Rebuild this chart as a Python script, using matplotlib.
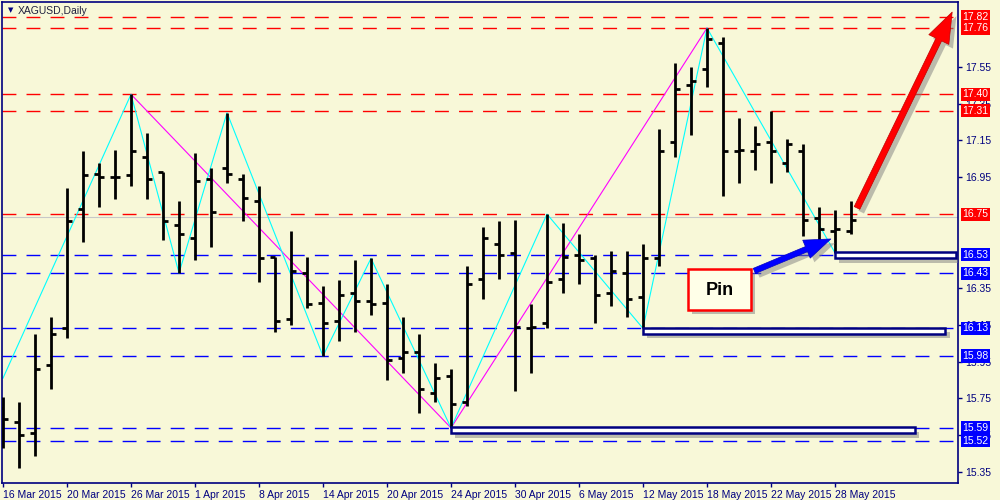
import matplotlib
matplotlib.use('Agg')
import matplotlib.pyplot as plt
import matplotlib.patheffects as pe
from matplotlib.patches import Rectangle, FancyArrowPatch
from matplotlib.transforms import blended_transform_factory

# ─── DATA ─────────────────────────────────────────────────────────────────────
opens = [15.70, 15.62, 15.56, 15.93, 16.13, 16.78, 16.97, 16.95, 16.96, 17.06,
         16.98, 16.69, 16.62, 16.94, 17.00, 16.94, 16.82, 16.52, 16.18, 16.43,
         16.27, 16.17, 16.32, 16.28, 16.27, 15.97, 16.00, 15.78, 15.87, 15.73,
         16.40, 16.59, 16.54, 16.13, 16.16, 16.40, 16.53, 16.51, 16.32, 16.43,
         16.30, 16.51, 17.14, 17.45, 17.54, 17.68, 17.09, 17.09, 17.14, 17.03,
         17.09, 16.73, 16.66, 16.66]
highs = [15.76, 15.73, 16.10, 16.19, 16.89, 17.09, 17.03, 17.10, 17.40, 17.19,
         16.98, 16.82, 17.08, 17.00, 17.30, 16.97, 16.90, 16.52, 16.66, 16.52,
         16.36, 16.39, 16.50, 16.51, 16.37, 16.19, 16.10, 15.94, 15.91, 16.47,
         16.68, 16.71, 16.72, 16.26, 16.75, 16.70, 16.64, 16.53, 16.55, 16.55,
         16.59, 17.21, 17.57, 17.55, 17.76, 17.71, 17.27, 17.23, 17.31, 17.16,
         17.13, 16.79, 16.77, 16.82]
lows = [15.48, 15.37, 15.44, 15.80, 16.08, 16.60, 16.79, 16.83, 16.90, 16.83,
        16.61, 16.43, 16.50, 16.57, 16.92, 16.71, 16.38, 16.11, 16.15, 16.24,
        15.98, 16.06, 16.11, 16.20, 15.85, 15.89, 15.67, 15.73, 15.59, 15.71,
        16.29, 16.40, 15.79, 15.89, 16.13, 16.32, 16.37, 16.16, 16.25, 16.19,
        16.13, 16.47, 17.06, 17.18, 17.44, 16.85, 16.92, 16.99, 16.92, 16.98,
        16.63, 16.61, 16.54, 16.64]
closes = [15.64, 15.55, 15.91, 16.10, 16.71, 16.96, 16.95, 16.95, 17.09, 16.94,
          16.71, 16.64, 16.93, 16.76, 16.97, 16.84, 16.51, 16.17, 16.44, 16.26,
          16.16, 16.31, 16.28, 16.26, 15.96, 16.00, 15.80, 15.86, 15.72, 16.37,
          16.62, 16.53, 16.14, 16.14, 16.38, 16.52, 16.50, 16.31, 16.44, 16.29,
          16.51, 17.09, 17.43, 17.47, 17.70, 17.09, 17.10, 17.13, 17.09, 17.13,
          16.72, 16.67, 16.67, 16.72]

date_ticks = [0, 4, 8, 12, 16, 20, 24, 28, 32, 36, 40, 44, 48, 52]
date_labels = ['16 Mar 2015', '20 Mar 2015', '26 Mar 2015', '1 Apr 2015',
               '8 Apr 2015', '14 Apr 2015', '20 Apr 2015', '24 Apr 2015',
               '30 Apr 2015', '6 May 2015', '12 May 2015', '18 May 2015',
               '22 May 2015', '28 May 2015']

# price scale labels that stay visible next to the level tags
price_ticks = [15.35, 15.55, 15.75, 15.95, 16.15, 16.35,
               16.95, 17.15, 17.35, 17.55]

red_levels = [17.82, 17.76, 17.40, 17.31, 16.75]
blue_levels = [16.53, 16.43, 16.13, 15.98, 15.59, 15.52]

# zigzag swing points (bar index, price)
zz_small_idx = [0, 8, 11, 14, 20, 23, 28, 34, 40, 44, 52]
zz_small_px = [15.86, 17.40, 16.43, 17.30, 15.98, 16.51, 15.59, 16.75, 16.13, 17.76, 16.54]
zz_big_idx = [8, 28, 44]
zz_big_px = [17.40, 15.59, 17.76]

# support boxes: start bar, end position
box_start = [28, 40, 52]
box_end = [57.0, 58.9, 59.55]

BG = '#F8F8D8'
NAVY = '#000080'
FONT = 'Liberation Sans'

# ─── FIGURE ───────────────────────────────────────────────────────────────────
fig = plt.figure(figsize=(10, 5), dpi=100, facecolor=BG)
ax = fig.add_axes([0.002, 0.034, 0.956, 0.962])
ax.set_facecolor(BG)
ax.set_xlim(-0.0625, 59.6875)
ax.set_ylim(15.291, 17.901)

# level lines
for lv in red_levels:
    ax.axhline(lv, color='#FF0000', lw=1.0, dashes=(10, 7.3), zorder=1)
for lv in blue_levels:
    ax.axhline(lv, color='#0000FF', lw=1.0, dashes=(10, 7.3), zorder=1)
ax.axhline(16.735, color='#C8C8C8', lw=0.8, zorder=1)

# zigzags
ax.plot(zz_big_idx, zz_big_px, color='#FF00FF', lw=0.8, zorder=2)
ax.plot(zz_small_idx, zz_small_px, color='#00FFFF', lw=0.8, zorder=2)

# OHLC bars
tick_w = 0.33
for i in range(len(opens)):
    ax.plot([i, i], [lows[i], highs[i]], color='black', lw=2.0,
            solid_capstyle='butt', zorder=3)
    ax.plot([i - tick_w, i], [opens[i], opens[i]], color='black', lw=2.0,
            solid_capstyle='butt', zorder=3)
    ax.plot([i, i + tick_w], [closes[i], closes[i]], color='black', lw=2.0,
            solid_capstyle='butt', zorder=3)

shadow = [pe.SimplePatchShadow(offset=(3, -3), shadow_rgbFace='#808080', alpha=0.5),
          pe.Normal()]

# support boxes
for s, e in zip(box_start, box_end):
    r = Rectangle((s, lows[s] - 0.03), e - s, 0.033, facecolor='white',
                  edgecolor=NAVY, lw=1.8, zorder=4)
    r.set_path_effects(shadow)
    ax.add_patch(r)

# Pin callout
pin = Rectangle((42.81, 16.230), 3.94, 0.222, facecolor='#FFFFE8',
                edgecolor='#FF0000', lw=1.8, zorder=5)
pin.set_path_effects(shadow)
ax.add_patch(pin)
ax.text(44.78, 16.338, 'Pin', ha='center', va='center', fontsize=13,
        fontweight='bold', family=FONT, color='black', zorder=6)

# arrows
blue_arrow = FancyArrowPatch((46.8, 16.436), (51.9, 16.621),
                             arrowstyle='simple,head_length=19,head_width=14,tail_width=4',
                             mutation_scale=1, facecolor='#0000FF', edgecolor='#0000C0',
                             lw=0.5, zorder=6)
blue_arrow.set_path_effects(shadow)
ax.add_patch(blue_arrow)
red_arrow = FancyArrowPatch((53.3, 16.77), (59.4, 17.86),
                            arrowstyle='simple,head_length=22,head_width=16,tail_width=4.5',
                            mutation_scale=1, facecolor='#FF0000', edgecolor='#C00000',
                            lw=0.5, zorder=6, clip_on=False)
red_arrow.set_path_effects(shadow)
ax.add_patch(red_arrow)

# axes styling
for side in ['left', 'right', 'bottom', 'top']:
    ax.spines[side].set_color(NAVY)
    ax.spines[side].set_linewidth(1.2)
ax.yaxis.tick_right()
ax.set_yticks(price_ticks)
ax.set_yticklabels([f'{p:.2f}' for p in price_ticks], family=FONT)
ax.set_xticks(date_ticks)
ax.set_xticklabels(date_labels, ha='left', family=FONT)
ax.tick_params(axis='y', direction='out', length=3, width=1, colors=NAVY,
               labelsize=7.5, pad=2)
ax.tick_params(axis='x', direction='out', length=3, width=1, colors=NAVY,
               labelsize=7.5, pad=2)

# level price labels on the right axis
tr = blended_transform_factory(ax.transAxes, ax.transData)
for lv in red_levels:
    ax.text(1.0045, lv, f'{lv:.2f}', transform=tr, ha='left', va='center',
            fontsize=7.5, family=FONT, color='white', zorder=10, clip_on=False,
            bbox=dict(boxstyle='square,pad=0.15', facecolor='#FF0000', edgecolor='none'))
for lv in blue_levels:
    ax.text(1.0045, lv, f'{lv:.2f}', transform=tr, ha='left', va='center',
            fontsize=7.5, family=FONT, color='white', zorder=10, clip_on=False,
            bbox=dict(boxstyle='square,pad=0.15', facecolor='#0000FF', edgecolor='none'))

# title
fig.text(0.008, 0.979, '\u25bc', fontsize=5, color=NAVY, va='center')
fig.text(0.018, 0.979, 'XAGUSD,Daily', fontsize=7.5, family=FONT,
         color='#202040', va='center')

fig.savefig('out.png', dpi=100, facecolor=BG)
